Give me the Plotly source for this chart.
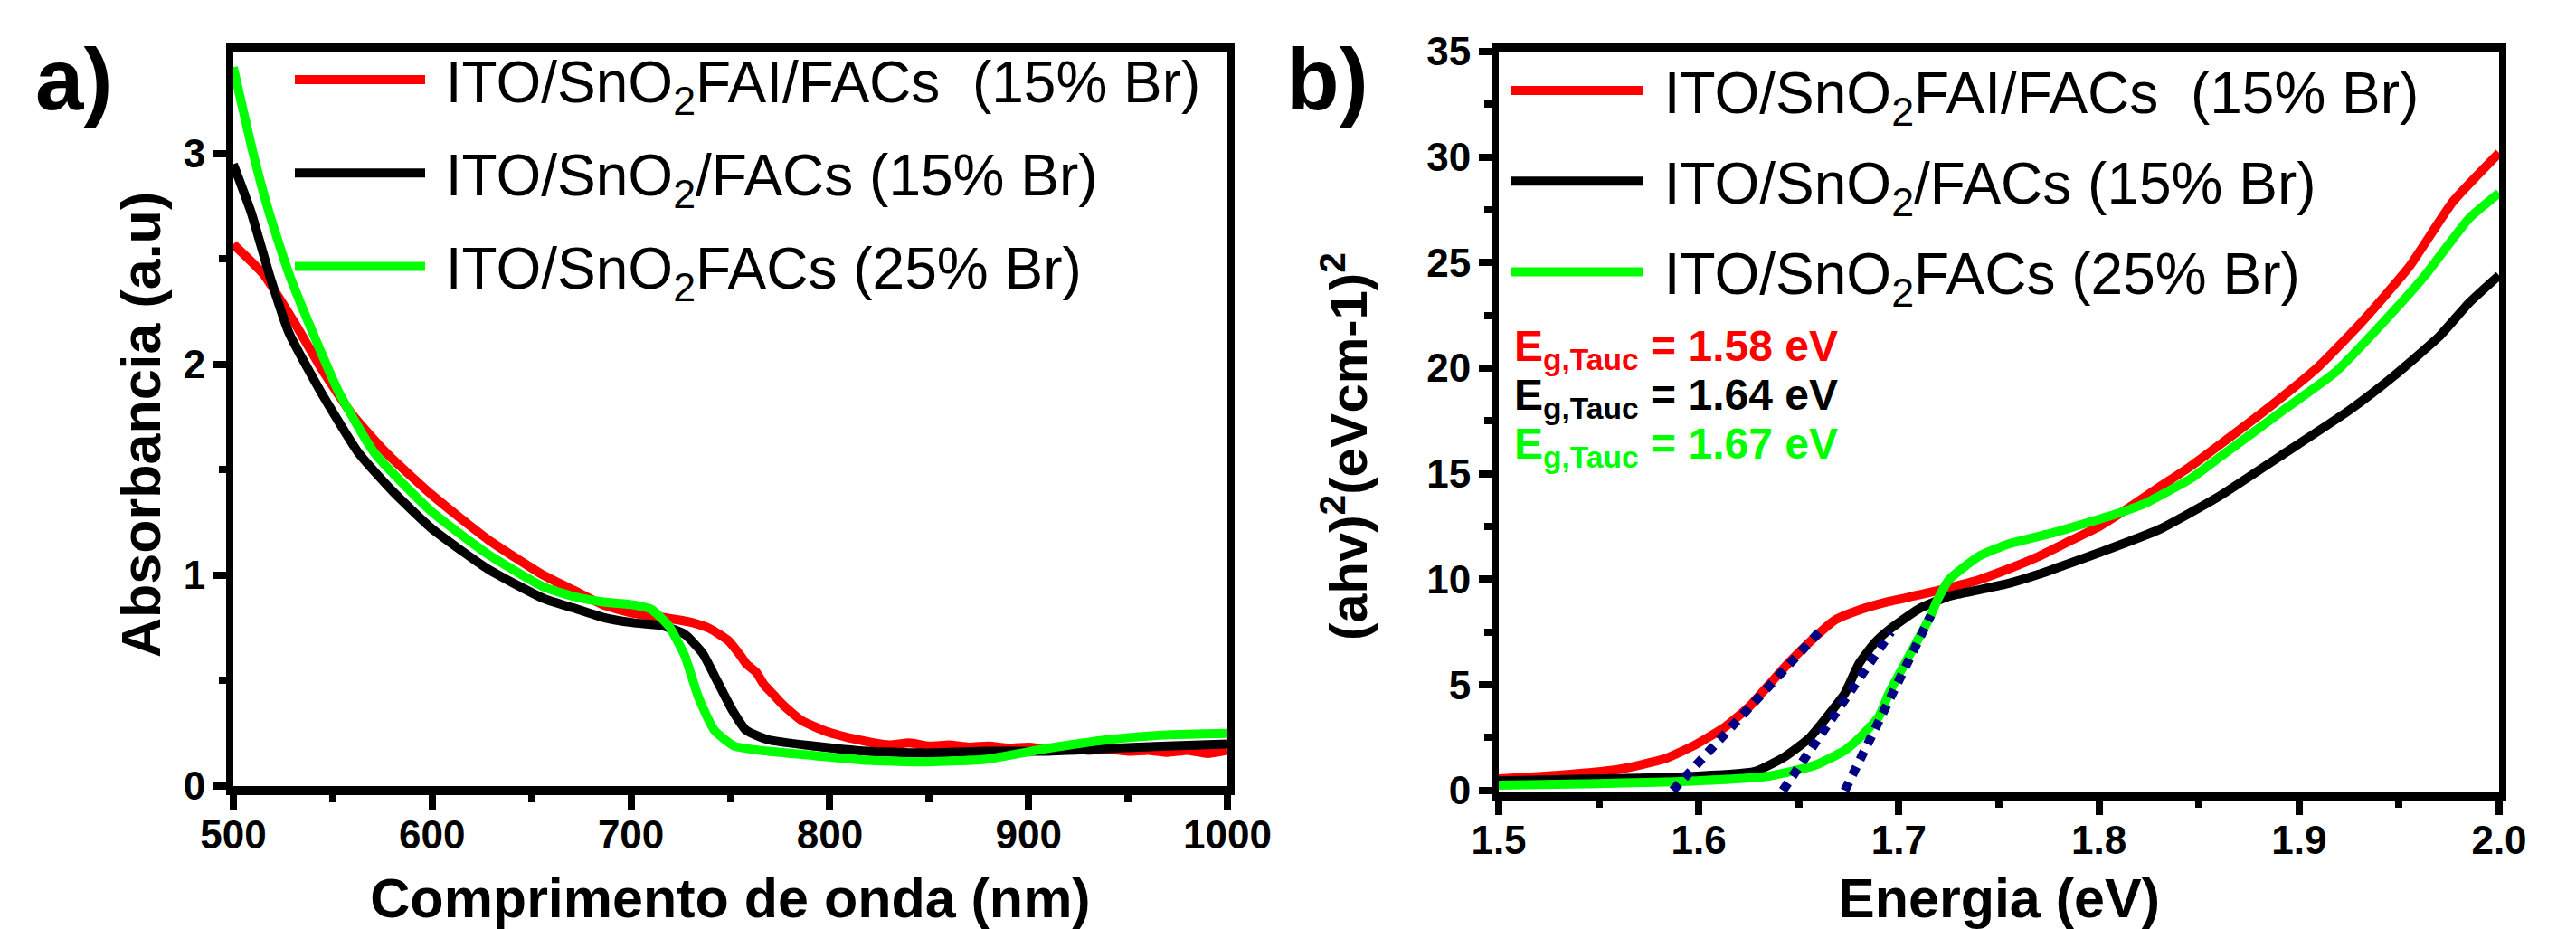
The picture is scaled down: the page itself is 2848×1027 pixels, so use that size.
import plotly.graph_objects as go

# ---------------- Panel a) data : absorbance vs wavelength ----------------
wl_red = [500, 515, 530, 545, 560, 577, 600, 628, 656, 671, 686, 701, 716, 731, 740,
          749, 755, 758, 763, 767, 772, 777, 786, 798, 814, 822, 830, 840, 850, 860, 870,
          880, 890, 900, 910, 920, 930, 940, 950, 960, 970, 980, 990, 1000]
abs_red = [2.57, 2.43, 2.21, 1.97, 1.76, 1.58, 1.38, 1.17, 1.00, 0.93, 0.86, 0.82, 0.80, 0.775, 0.745,
           0.69, 0.62, 0.58, 0.54, 0.48, 0.43, 0.38, 0.31, 0.26, 0.22, 0.205, 0.195, 0.205, 0.19, 0.195, 0.185,
           0.19, 0.18, 0.185, 0.175, 0.18, 0.17, 0.175, 0.165, 0.17, 0.16, 0.17, 0.155, 0.17]

wl_black = [500, 509, 518, 528, 544, 563, 580, 600, 628, 656, 671, 686, 701, 716, 727, 736,
            743, 751, 758, 769, 792, 819, 849, 879, 909, 940, 970, 1000]
abs_black = [2.95, 2.72, 2.43, 2.15, 1.87, 1.58, 1.40, 1.22, 1.03, 0.89, 0.845, 0.80, 0.775, 0.76, 0.72, 0.63,
             0.505, 0.36, 0.264, 0.22, 0.19, 0.165, 0.157, 0.165, 0.165, 0.178, 0.19, 0.20]

wl_green = [500, 510, 518, 528, 540, 553, 571, 600, 628, 656, 671, 686, 701, 710, 719, 727,
            734, 742, 752, 769, 792, 819, 849, 879, 909, 940, 970, 1000]
abs_green = [3.41, 3.00, 2.72, 2.43, 2.15, 1.87, 1.58, 1.30, 1.10, 0.945, 0.90, 0.873, 0.86, 0.84, 0.76, 0.62,
             0.42, 0.264, 0.19, 0.165, 0.145, 0.122, 0.115, 0.128, 0.178, 0.22, 0.243, 0.25]

# ---------------- Panel b) data : Tauc plot ----------------
en_red = [1.500, 1.530, 1.560, 1.583, 1.598, 1.613, 1.625, 1.635, 1.646, 1.658, 1.668, 1.680,
          1.695, 1.710, 1.725, 1.740, 1.755, 1.770, 1.785, 1.800, 1.815, 1.830, 1.845, 1.860,
          1.883, 1.910, 1.932, 1.955, 1.977, 2.000]
tauc_red = [0.55, 0.72, 1.00, 1.50, 2.15, 3.00, 3.95, 5.00, 6.15, 7.26, 8.07, 8.54,
            8.95, 9.26, 9.60, 9.98, 10.50, 11.09, 11.80, 12.50, 13.40, 14.36, 15.30, 16.35,
            18.00, 20.10, 22.26, 24.80, 27.90, 30.20]

en_black = [1.500, 1.550, 1.590, 1.628, 1.643, 1.655, 1.665, 1.673, 1.680, 1.688, 1.695, 1.710,
            1.725, 1.740, 1.755, 1.770, 1.785, 1.800, 1.830, 1.860, 1.890, 1.925, 1.947, 1.970,
            1.985, 2.000]
tauc_black = [0.45, 0.55, 0.64, 0.90, 1.60, 2.46, 3.60, 4.60, 6.00, 7.00, 7.60, 8.60,
              9.20, 9.50, 9.81, 10.24, 10.75, 11.26, 12.36, 13.93, 15.80, 18.00, 19.60, 21.50,
              23.10, 24.40]

en_green = [1.500, 1.550, 1.590, 1.635, 1.658, 1.673, 1.680, 1.690, 1.695, 1.707, 1.716, 1.719,
            1.725, 1.740, 1.755, 1.778, 1.808, 1.823, 1.846, 1.860, 1.892, 1.918, 1.940, 1.963,
            1.985, 2.000]
tauc_green = [0.25, 0.33, 0.42, 0.68, 1.19, 1.90, 2.46, 3.50, 4.60, 6.70, 8.30, 8.97,
              9.98, 11.09, 11.68, 12.23, 13.08, 13.60, 14.78, 15.76, 18.00, 19.80, 21.96, 24.40,
              27.10, 28.30]

# linear Tauc fits (end points)
fit_red_e, fit_red_v = [1.587, 1.662], [0.0, 7.7]
fit_black_e, fit_black_v = [1.642, 1.696], [0.0, 7.5]
fit_green_e, fit_green_v = [1.673, 1.716], [0.0, 8.3]

names = ["&nbsp;ITO/SnO<sub>2</sub>FAI/FACs &nbsp;(15% Br)",
         "&nbsp;ITO/SnO<sub>2</sub>/FACs (15% Br)",
         "&nbsp;ITO/SnO<sub>2</sub>FACs (25% Br)"]
colors = ["#FF0000", "#000000", "#00FF00"]
gap_labels = ["E<sub>g,Tauc</sub> = 1.58 eV", "E<sub>g,Tauc</sub> = 1.64 eV", "E<sub>g,Tauc</sub> = 1.67 eV"]

W, H = 2848, 1027
FONT = "Liberation Sans, Arial, Helvetica, sans-serif"
LW = 10

fig = go.Figure()

left_sets = [(wl_red, abs_red), (wl_black, abs_black), (wl_green, abs_green)]
right_sets = [(en_red, tauc_red), (en_black, tauc_black), (en_green, tauc_green)]

for i, (xs, ys) in enumerate(left_sets):
    fig.add_trace(go.Scatter(x=xs, y=ys, mode="lines", name=names[i],
                             line=dict(color=colors[i], width=LW, shape="spline", smoothing=0.5),
                             xaxis="x", yaxis="y", legend="legend", legendgroup="a%d" % i))
for i, (xs, ys) in enumerate(right_sets):
    fig.add_trace(go.Scatter(x=xs, y=ys, mode="lines", name=names[i],
                             line=dict(color=colors[i], width=LW, shape="spline", smoothing=0.5),
                             xaxis="x2", yaxis="y2", legend="legend2", legendgroup="b%d" % i))
for fe, fv in [(fit_red_e, fit_red_v), (fit_black_e, fit_black_v), (fit_green_e, fit_green_v)]:
    fig.add_trace(go.Scatter(x=fe, y=fv, mode="lines", showlegend=False,
                             line=dict(color="#000080", width=10, dash="10px,9px"),
                             xaxis="x2", yaxis="y2"))

def px_x(p):
    return p / W

def px_y(p):
    return 1 - p / H

tickfont = dict(family=FONT, size=44, color="black", weight="bold")
titlefont = dict(family=FONT, size=61, color="black", weight="bold")

common_x = dict(showline=True, linewidth=10, linecolor="black", mirror=True, ticks="outside",
                ticklen=16, tickwidth=8, tickcolor="black", showgrid=False, zeroline=False,
                tickfont=tickfont, automargin=False, ticklabelstandoff=-10)
common_y = dict(showline=True, linewidth=8, linecolor="black", mirror=True, ticks="outside",
                ticklen=14, tickwidth=8, tickcolor="black", showgrid=False, zeroline=False,
                tickfont=tickfont, automargin=False)

fig.update_layout(
    width=W, height=H, margin=dict(l=0, r=0, t=0, b=0, autoexpand=False),
    paper_bgcolor="white", plot_bgcolor="white",
    xaxis=dict(common_x, domain=[px_x(258), px_x(1357)], range=[500, 1000], anchor="y",
               tickvals=[500, 600, 700, 800, 900, 1000],
               minor=dict(dtick=50, ticks="outside", ticklen=8, tickwidth=8, tickcolor="black"),
               title=dict(text="Comprimento de onda (nm)", font=titlefont, standoff=30)),
    yaxis=dict(common_y, domain=[px_y(869), px_y(58)], range=[0, 3.48], anchor="x",
               tickvals=[0, 1, 2, 3],
               minor=dict(dtick=0.5, ticks="outside", ticklen=8, tickwidth=8, tickcolor="black")),
    xaxis2=dict(common_x, domain=[px_x(1657), px_x(2763)], range=[1.5, 2.0], anchor="y2",
                tickvals=[1.5, 1.6, 1.7, 1.8, 1.9, 2.0], ticktext=["1.5", "1.6", "1.7", "1.8", "1.9", "2.0"],
                minor=dict(dtick=0.05, ticks="outside", ticklen=8, tickwidth=8, tickcolor="black"),
                title=dict(text="Energia (eV)", font=titlefont, standoff=30)),
    yaxis2=dict(common_y, domain=[px_y(875), px_y(57)], range=[-0.05, 35], anchor="x2",
                tickvals=[0, 5, 10, 15, 20, 25, 30, 35],
                minor=dict(dtick=2.5, ticks="outside", ticklen=8, tickwidth=8, tickcolor="black")),
    legend=dict(x=px_x(321), y=px_y(40), xanchor="left", yanchor="top",
                font=dict(family=FONT, size=64, color="black"), bgcolor="rgba(0,0,0,0)",
                itemwidth=144, tracegroupgap=17, traceorder="grouped"),
    legend2=dict(x=px_x(1665), y=px_y(52), xanchor="left", yanchor="top",
                 font=dict(family=FONT, size=64, color="black"), bgcolor="rgba(0,0,0,0)",
                 itemwidth=147, tracegroupgap=14, traceorder="grouped"),
    showlegend=True,
)

# y-axis titles (rotated annotations placed where the reference has them)
fig.add_annotation(text="Absorbancia (a.u)", x=px_x(156), y=px_y(470), xref="paper", yref="paper",
                   xanchor="center", yanchor="middle", textangle=-90, showarrow=False,
                   font=titlefont)
fig.add_annotation(text="(ahv)<sup>2</sup>(eVcm-1)<sup>2</sup>", x=px_x(1486), y=px_y(494),
                   xref="paper", yref="paper", xanchor="center", yanchor="middle", textangle=-90,
                   showarrow=False, font=dict(family=FONT, size=58, color="black", weight="bold"))

# panel letters
fig.add_annotation(text="a)", x=px_x(81), y=px_y(88), xref="paper", yref="paper",
                   xanchor="center", yanchor="middle", showarrow=False,
                   font=dict(family=FONT, size=96, color="black", weight="bold"))
fig.add_annotation(text="b)", x=px_x(1467), y=px_y(88), xref="paper", yref="paper",
                   xanchor="center", yanchor="middle", showarrow=False,
                   font=dict(family=FONT, size=96, color="black", weight="bold"))

# band gap labels
for i, (lab, yy) in enumerate(zip(gap_labels, [386, 440, 494])):
    fig.add_annotation(text=lab, x=px_x(1672), y=px_y(yy), xref="paper", yref="paper",
                       xanchor="left", yanchor="middle", showarrow=False,
                       font=dict(family=FONT, size=48, color=colors[i], weight="bold"))

fig.write_html("out.html")
